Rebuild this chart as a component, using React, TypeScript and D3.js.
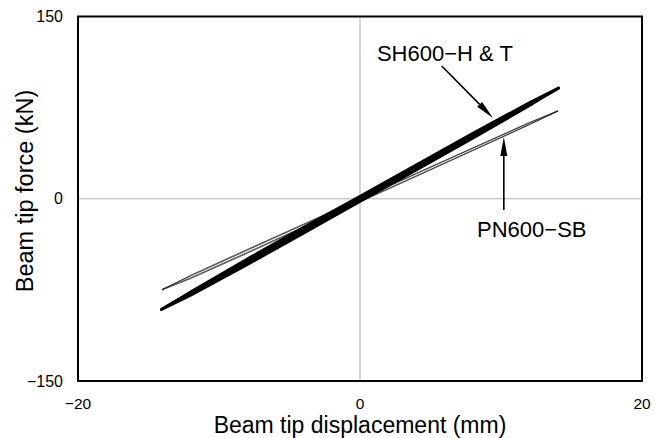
import React from "react";
import * as d3 from "d3";

// Axis ranges and tick labels
const xTicks = [-20, 0, 20];
const yTicks = [-150, 0, 150];

// SH600-H & T : hysteresis cycles (displacement mm, force kN)
const shDisp = [-14.1, -12, -8, -4, 0, 4, 8, 12, 14.1];
const shUpperA = [-91.5, -76.2, -49.3, -23.3, 2.3, 28.3, 54.2, 79.2, 91.5];
const shLowerA = [-91.5, -79.6, -54.5, -28.7, -2.6, 23.4, 49.5, 76.3, 91.5];
const shUpperB = [-90.8, -76.8, -50.2, -24.2, 1.4, 27.4, 53.3, 78.6, 90.8];
const shLowerB = [-90.8, -78.9, -53.6, -27.8, -1.7, 24.3, 50.4, 77.0, 90.8];

// PN600-SB : hysteresis cycles
const pnDisp = [-14.04, -12, -8, -4, 0, 4, 8, 12, 14.04];
const pnUpperA = [-75.1, -62.9, -41.7, -20.8, 0.0, 21.0, 41.9, 62.7, 72.5];
const pnLowerA = [-75.1, -65.7, -44.9, -23.7, -2.6, 18.4, 39.6, 60.8, 72.5];
const pnUpperB = [-74.6, -63.5, -42.4, -21.4, -0.6, 20.5, 41.5, 62.3, 72.0];
const pnLowerB = [-74.6, -65.0, -44.2, -23.1, -2.0, 18.9, 40.0, 61.2, 72.0];

// Annotation anchors in data units: label position, arrow start, arrow tip
const shNote = { text: "SH600\u2212H & T", tx: 1.2, ty: 113.6, x0: 5.8, y0: 109.3, x1: 9.43, y1: 66.5 };
const pnNote = { text: "PN600\u2212SB", tx: 8.3, ty: -31.7, x0: 10.2, y0: -9.3, x1: 10.2, y1: 50.8 };

const W = 662;
const H = 438;
const left = 78;
const right = 642;
const top = 16.5;
const bottom = 381;

const FONT = "'Liberation Sans', Arial, sans-serif";

export default function App() {
  const x = d3.scaleLinear().domain([-20, 20]).range([left, right]);
  const y = d3.scaleLinear().domain([-150, 150]).range([bottom, top]);

  const line = d3
    .line<[number, number]>()
    .x((d) => x(d[0]))
    .y((d) => y(d[1]));

  const loop = (disp: number[], upper: number[], lower: number[]) => {
    const pts: [number, number][] = [];
    disp.forEach((d, i) => pts.push([d, upper[i]]));
    for (let i = disp.length - 1; i >= 0; i--) pts.push([disp[i], lower[i]]);
    return line(pts) + "Z";
  };

  const arrow = (n: typeof shNote, headLen = 19, headW = 3.5) => {
    const ax = x(n.x0), ay = y(n.y0), bx = x(n.x1), by = y(n.y1);
    const ang = Math.atan2(by - ay, bx - ax);
    const ux = Math.cos(ang), uy = Math.sin(ang);
    const hx = bx - ux * headLen, hy = by - uy * headLen;
    const head = `M${bx},${by}L${hx - uy * headW},${hy + ux * headW}L${hx + uy * headW},${hy - ux * headW}Z`;
    return (
      <g>
        <line x1={ax} y1={ay} x2={hx} y2={hy} stroke="#000" strokeWidth={1.6} />
        <path d={head} fill="#000" />
      </g>
    );
  };

  const fmt = (t: number) => (t < 0 ? "\u2212" + Math.abs(t) : String(t));

  return (
    <svg width={W} height={H} style={{ display: "block", position: "absolute", left: 0, top: 0, background: "#fff" }}>
      <rect width={W} height={H} fill="#fff" />
      {/* zero lines */}
      <line x1={x(0)} x2={x(0)} y1={top} y2={bottom} stroke="#b0b0b0" strokeWidth={1} />
      <line x1={left} x2={right} y1={y(0)} y2={y(0)} stroke="#b0b0b0" strokeWidth={1} />

      {/* PN600-SB cycles */}
      {[
        [pnUpperA, pnLowerA],
        [pnUpperB, pnLowerB],
      ].map(([u, l], i) => (
        <path key={"pn" + i} d={loop(pnDisp, u, l)} fill="none" stroke="#1a1a1a" strokeWidth={0.7} strokeLinejoin="round" />
      ))}

      {/* SH600-H & T cycles */}
      {[
        [shUpperA, shLowerA],
        [shUpperB, shLowerB],
      ].map(([u, l], i) => (
        <path key={"sh" + i} d={loop(shDisp, u, l)} fill="#000" stroke="#000" strokeWidth={2.2} strokeLinejoin="round" />
      ))}

      {/* frame */}
      <rect x={left} y={top} width={right - left} height={bottom - top} fill="none" stroke="#000" strokeWidth={2} />

      {/* tick labels */}
      {yTicks.map((t) => (
        <text key={"y" + t} x={63} y={y(t)} dy="0.35em" textAnchor="end" fontFamily={FONT} fontSize={16} fill="#000">
          {fmt(t)}
        </text>
      ))}
      {xTicks.map((t) => (
        <text key={"x" + t} x={x(t)} y={409} textAnchor="middle" fontFamily={FONT} fontSize={15.5} fill="#000">
          {fmt(t)}
        </text>
      ))}

      {/* axis titles */}
      <text x={x(0)} y={433} textAnchor="middle" fontFamily={FONT} fontSize={23} fill="#000">
        Beam tip displacement (mm)
      </text>
      <text transform={`translate(33,191) rotate(-90)`} textAnchor="middle" fontFamily={FONT} fontSize={23.5} fill="#000">
        Beam tip force (kN)
      </text>

      {/* annotations */}
      <text x={x(shNote.tx)} y={y(shNote.ty)} fontFamily={FONT} fontSize={22} fill="#000">
        {shNote.text}
      </text>
      {arrow(shNote)}
      <text x={x(pnNote.tx)} y={y(pnNote.ty)} fontFamily={FONT} fontSize={22} fill="#000">
        {pnNote.text}
      </text>
      {arrow(pnNote)}
    </svg>
  );
}
